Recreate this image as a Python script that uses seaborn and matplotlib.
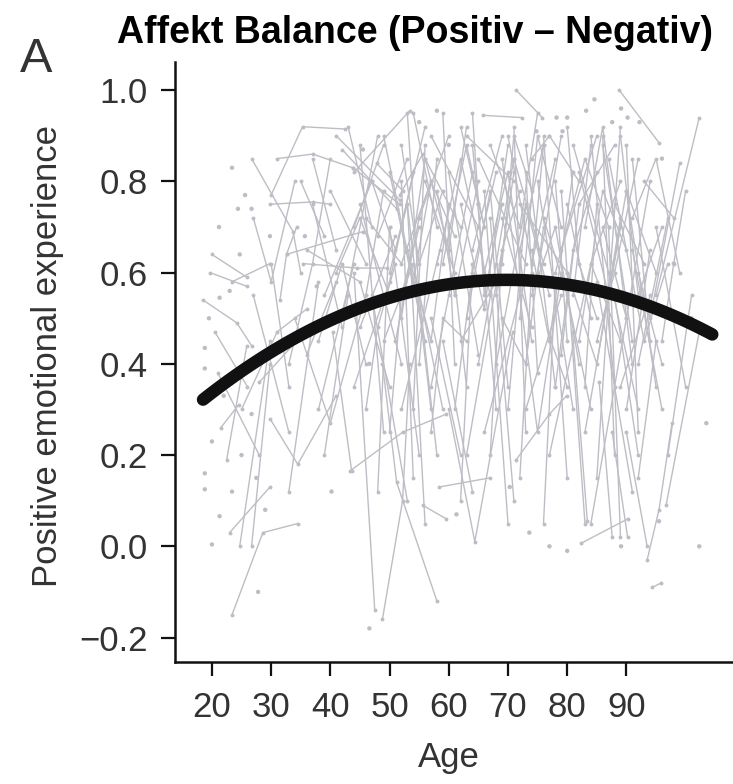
import matplotlib
matplotlib.use("Agg")
import matplotlib.pyplot as plt
import pandas as pd
import seaborn as sns

# ------------------------------------------------------------------
# Data
# ------------------------------------------------------------------
# longitudinal participants, ages / scores per measurement wave
young_age = [
    [18.5, 24.2, 26.7], [20, 25.9], [19.7, 25.9], [23.4, 29.8], [26.7, 33.7, 35],
    [30, 35.3, 42.4], [31, 37, 43.8], [29.8, 37, 40], [32.6, 45.5], [31.5, 32.6, 34.3],
    [35.3, 44.5, 49.5], [23.4, 28.6, 34.5], [24.7, 29.8], [26.7, 29.8], [22.5, 25.9],
    [23, 29.8], [29.8, 34.5, 41], [21, 28], [25, 31, 36], [20.5, 26],
    [27, 33], [33, 38], [21.5, 24.5], [28, 35], [34, 40, 46],
    [35, 39], [33, 37, 40], [30, 33], [27, 30, 34],
]
young_pos = [
    [0.54, 0.49, 0.44], [0.64, 0.59], [0.60, 0.57], [0.58, 0.62], [0.85, 0.69, 0.60],
    [0.77, 0.92, 0.915], [0.85, 0.86, 0.83], [0.75, 0.755, 0.75], [0.64, 0.69], [0.54, 0.64, 0.70],
    [0.62, 0.61, 0.61], [-0.15, 0.03, 0.05], [0.0, 0.45], [0.0, 0.40], [0.19, 0.44],
    [0.03, 0.13], [0.28, 0.18, 0.33], [0.38, 0.20], [0.30, 0.47, 0.52], [0.47, 0.35],
    [0.55, 0.25], [0.12, 0.58], [0.26, 0.31], [0.36, 0.46], [0.50, 0.27, 0.55],
    [0.80, 0.68], [0.40, 0.62, 0.85], [0.62, 0.35], [0.72, 0.58, 0.80],
]

middle_age = [
    [37, 42], [41, 51.7], [42, 51.2], [47.8, 52.2], [51.7, 55.6],
    [44, 53.4], [43.8, 51.7], [40.4, 43.6], [43.3, 52.2, 59.6], [48.8, 52.2, 53.4],
    [48.8, 51.2, 58], [55.6, 59.6], [36, 45, 50], [38, 44], [45, 49],
    [46, 52, 57], [50, 55], [52, 56, 62], [39, 47], [44, 47.5],
    [53, 57, 60], [54, 58], [49, 54, 59], [56, 61], [57, 60, 64],
    [47, 53], [55, 60], [58, 62, 67], [50, 56], [59, 64],
    [36, 41], [45, 51], [52, 58.5],
    [40, 46], [41, 45, 50], [42, 48], [43, 47], [44, 50, 54],
    [45, 52], [46, 49], [47, 51, 56], [48, 53], [49, 55],
    [50, 53, 57], [51, 55], [52, 55, 59], [53, 56], [54, 57, 61],
    [55, 58], [56, 60, 63], [57, 62], [58, 61], [59, 63, 66],
    [52, 54], [53, 55, 58], [54, 56], [38, 42, 46], [39, 43],
    [37, 41], [48, 50], [50, 52, 55], [59, 61], [57, 59, 63],
    [44, 49], [46, 48, 51],
]
middle_pos = [
    [0.75, 0.48], [0.90, 0.76], [0.87, 0.74], [0.84, 0.78], [0.77, 0.86],
    [0.82, 0.955], [0.83, 0.75], [0.47, 0.165], [0.165, 0.25, 0.29], [-0.16, 0.10, 0.40],
    [0.40, 0.14, -0.12], [0.09, 0.06], [0.65, 0.58, 0.35], [0.30, 0.62], [0.88, 0.25],
    [0.72, 0.62, 0.80], [0.70, 0.20], [0.50, 0.85, 0.70], [0.55, 0.80], [0.60, -0.14],
    [0.65, 0.45, 0.75], [0.95, 0.70], [0.45, 0.62, 0.30], [0.80, 0.60], [0.35, 0.55, 0.82],
    [0.55, 0.10], [0.72, 0.90], [0.62, 0.85, 0.55], [0.82, 0.45], [0.45, 0.12],
    [0.42, 0.58], [0.48, 0.68], [0.30, 0.65],
    [0.78, 0.62], [0.60, 0.72, 0.55], [0.50, 0.90], [0.92, 0.70], [0.35, 0.58, 0.82],
    [0.75, 0.40], [0.55, 0.78], [0.80, 0.65, 0.92], [0.68, 0.85], [0.90, 0.52],
    [0.60, 0.75, 0.30], [0.45, 0.72], [0.88, 0.62, 0.78], [0.75, 0.05], [0.58, 0.80, 0.68],
    [0.40, 0.85], [0.85, 0.65, 0.92], [0.50, 0.20], [0.78, 0.55], [0.62, 0.88, 0.70],
    [0.80, 0.15], [0.95, 0.55, 0.20], [0.30, 0.88], [0.45, 0.62, 0.40], [0.20, 0.55],
    [0.85, 0.65], [0.12, 0.70], [0.25, 0.55, 0.70], [0.95, 0.40], [0.25, 0.50, 0.45],
    [0.70, 0.88], [0.30, 0.48, 0.62],
]

older_age = [
    [60, 64.4, 70.8], [71.4, 77, 79.9], [77, 80], [80.9, 83.4], [82.4, 90.2],
    [85.4, 87.6], [87.6, 90.2], [93.5, 95.5, 97.7], [90, 93.5], [96.7, 102.3],
    [94.4, 95.9], [58.4, 66.9], [71.4, 75.8], [88.8, 95.5], [65.7, 72.4],
    [95, 102.3], [62, 66, 70], [64, 68], [66, 70, 74], [68, 73],
    [69, 75, 79], [72, 76], [74, 78, 82], [76, 80], [78, 83, 87],
    [80, 84], [82, 86, 90], [84, 88], [86, 90, 94], [88, 92],
    [90, 95], [92, 97], [61, 65], [63, 69, 72], [67, 71],
    [70, 74, 78], [73, 79], [75, 81], [77, 84, 89], [79, 85],
    [81, 87, 92], [83, 89], [85, 91], [87, 93, 97], [89, 94],
    [91, 96], [65, 73], [60, 63], [62, 68], [69, 73, 76],
    [74, 77], [79, 82, 88], [84, 90], [91, 94], [66, 72],
    [72, 80], [57, 65], [63, 71],
    [60, 65], [61, 64, 68], [62, 66], [63, 67, 70], [64, 69],
    [65, 68, 71], [66, 70], [67, 72, 75], [68, 71], [69, 74],
    [70, 73, 77], [71, 76], [72, 75, 79], [73, 78], [74, 77, 81],
    [75, 79], [76, 80, 84], [77, 82], [78, 81, 85], [79, 83],
    [80, 85, 89], [81, 84], [82, 87], [83, 86, 91], [84, 89],
    [85, 88, 92], [86, 91], [87, 90, 95], [88, 93], [89, 92, 96],
    [90, 94], [91, 95, 99], [92, 96], [93, 98], [94, 99],
    [95, 100], [71, 73], [72, 74, 76], [73, 75], [86, 88],
    [85, 87, 89], [87, 89], [62, 64], [64, 66, 69], [76, 78],
    [80, 82, 85], [83, 85], [96, 98, 100], [97, 101], [67, 69],
    [69, 71, 74], [78, 80], [90, 92], [92, 95],
]
older_pos = [
    [0.30, 0.01, 0.47], [0.19, 0.29, 0.33], [0.46, 0.35], [0.47, 0.055], [0.007, 0.06],
    [0.36, 0.02], [0.25, 0.02], [-0.03, 0.08, 0.27], [0.25, 0.00], [0.09, 0.47],
    [-0.09, -0.08], [0.13, 0.15], [1.0, 0.94], [1.0, 0.885], [0.945, 0.94],
    [0.55, 0.94], [0.75, 0.52, 0.88], [0.88, 0.30], [0.60, 0.82, 0.45], [0.40, 0.75],
    [0.85, 0.25, 0.60], [0.65, 0.88], [0.55, 0.70, 0.40], [0.90, 0.15], [0.60, 0.85, 0.70],
    [0.75, 0.50], [0.45, 0.78, 0.65], [0.90, 0.35], [0.70, 0.50, 0.80], [0.55, 0.20],
    [0.78, 0.60], [0.40, 0.72], [0.55, 0.80], [0.20, 0.65, 0.78], [0.72, 0.10],
    [0.90, 0.62, 0.85], [0.30, 0.55], [0.80, 0.30], [0.20, 0.62, 0.45], [0.65, 0.90],
    [0.88, 0.60, 0.30], [0.25, 0.70], [0.58, 0.12], [0.85, 0.45, 0.62], [0.35, 0.55],
    [0.65, 0.30], [0.85, 0.62], [0.70, 0.35], [0.45, 0.58], [0.50, 0.40, 0.70],
    [0.85, 0.90], [0.42, 0.75, 0.88], [0.05, 0.50], [0.85, 0.45], [0.25, 0.55],
    [0.75, 0.60], [0.90, 0.70], [0.90, 0.80],
    [0.82, 0.42], [0.30, 0.60, 0.82], [0.92, 0.70], [0.50, 0.78, 0.35], [0.65, 0.90],
    [0.40, 0.62, 0.85], [0.78, 0.05], [0.88, 0.70, 0.95], [0.55, 0.82], [0.72, 0.48],
    [0.30, 0.75, 0.55], [0.85, 0.62], [0.50, 0.90, 0.70], [0.88, 0.35], [0.65, 0.45, 0.82],
    [0.60, 0.90], [0.72, 0.55, 0.30], [0.90, 0.80], [0.35, 0.65, 0.82], [0.78, 0.05],
    [0.60, 0.40, 0.72], [0.55, 0.88], [0.82, 0.55], [0.70, 0.92, 0.40], [0.62, 0.80],
    [0.45, 0.60, 0.85], [0.88, 0.45], [0.55, 0.78, 0.35], [0.75, 0.62], [0.90, 0.55, 0.70],
    [0.30, 0.65], [0.72, 0.85, 0.60], [0.60, 0.40], [0.80, 0.72], [0.50, 0.84],
    [0.70, 0.35], [0.92, 0.25], [0.15, 0.60, 0.88], [0.82, 0.38], [0.90, 0.20],
    [0.15, 0.55, 0.92], [0.70, 0.02], [0.10, 0.62], [0.95, 0.55, 0.75], [0.05, 0.58],
    [0.92, 0.62, 0.50], [0.35, 0.75], [0.45, 0.62, 0.78], [0.20, 0.55], [0.20, 0.65],
    [0.62, 0.90, 0.78], [0.80, 0.45], [0.88, 0.25], [0.15, 0.45],
]

# participants with a single measurement
single_age = [
    23.4, 25.6, 24.4, 26.7, 21.2, 29.8, 35.7, 24.7, 45.5, 58, 37.7, 23, 21.3, 18.8,
    18.8, 18.8, 20, 21.3, 20, 23.4, 27.8, 29, 18.8, 26.7, 46.6, 40.2, 46.6, 25, 22,
    19.5, 27.5, 73.6, 77, 80, 89.1, 102.3, 103.5, 70.3, 95.5, 84.6, 83.2, 78.2, 80,
    87.6, 90.2, 89.1, 92.2, 74.8, 79.2, 61.3, 65, 98, 101, 96, 55, 60,
]
single_pos = [
    0.83, 0.77, 0.74, 0.74, 0.70, 0.68, 0.68, 0.64, 0.87, 0.955, 0.57, 0.56, 0.545, 0.435,
    0.16, 0.125, 0.23, 0.066, 0.004, 0.12, -0.10, 0.08, 0.39, 0.29, 0.40, 0.12, -0.18, 0.20, 0.33,
    0.50, 0.15, 0.03, 0.0, -0.01, 0.0, 0.0, 0.27, 0.13, 0.055, 0.98, 0.955, 0.94, 0.94,
    0.93, 0.94, 0.96, 0.93, 0.91, 0.91, 0.07, 0.75, 0.62, 0.50, 0.85, 0.93, 0.88,
]

# points read along the thick black age trend
trend_age = [18.5, 26.4, 34.8, 43.3, 51.7, 60.1, 68.6, 77, 85.4, 93.9, 104.5]
trend_pos = [0.319, 0.396, 0.46, 0.516, 0.556, 0.58, 0.589, 0.576, 0.549, 0.516, 0.477]

# ------------------------------------------------------------------
# Long table for seaborn
# ------------------------------------------------------------------
rows = []
pid = 0
for ages, vals in zip(young_age + middle_age + older_age, young_pos + middle_pos + older_pos):
    for a, v in zip(ages, vals):
        rows.append({"pid": pid, "age": a, "pos": v})
    pid += 1
long_df = pd.DataFrame(rows)
single_df = pd.DataFrame({"age": single_age, "pos": single_pos})
trend_df = pd.DataFrame({"age": trend_age, "pos": trend_pos})

# ------------------------------------------------------------------
# Plot
# ------------------------------------------------------------------
sns.set_style("ticks")
plt.rcParams["font.family"] = ["Liberation Sans", "DejaVu Sans"]

gray = "#bdbdc5"
fig = plt.figure(figsize=(7.33, 7.84), dpi=100)
ax = fig.add_axes([0.239, 0.156, 0.761, 0.765])

sns.lineplot(data=long_df, x="age", y="pos", units="pid", estimator=None,
             color=gray, linewidth=1.0, marker="o", markersize=2.8,
             markeredgewidth=0, ax=ax)
sns.scatterplot(data=single_df, x="age", y="pos", color=gray, s=10,
                edgecolor="none", ax=ax)
# quadratic age trend, fitted through the read-off trend points
sns.regplot(data=trend_df, x="age", y="pos", order=2, ci=None, scatter=False,
            line_kws={"color": "#111111", "linewidth": 9, "solid_capstyle": "round"},
            ax=ax)

ax.set_xlim(13.8, 108)
ax.set_ylim(-0.253, 1.062)
ax.set_xticks([20, 30, 40, 50, 60, 70, 80, 90])
ax.set_yticks([-0.2, 0.0, 0.2, 0.4, 0.6, 0.8, 1.0])
ax.set_yticklabels(["\u22120.2", "0.0", "0.2", "0.4", "0.6", "0.8", "1.0"])
sns.despine(ax=ax)
for side in ["left", "bottom"]:
    ax.spines[side].set_linewidth(1.8)
    ax.spines[side].set_color("#111111")
ax.tick_params(axis="both", length=10, width=1.6, color="#111111",
               labelsize=25, labelcolor="#333333", pad=10)
ax.tick_params(axis="x", pad=11)

ax.set_xlabel("Age", fontsize=25, color="#333333")
ax.set_ylabel("Positive emotional experience", fontsize=25, color="#333333")
ax.xaxis.set_label_coords(0.491, -0.133)
ax.yaxis.set_label_coords(-0.20, 0.51)

fig.text(0.566, 0.958, "Affekt Balance (Positiv \u2013 Negativ)", ha="center",
         va="center", fontsize=27, fontweight="bold", color="black")
fig.text(0.049, 0.924, "A", ha="center", va="center", fontsize=35, color="#333333")

fig.savefig("out.png", dpi=100)
